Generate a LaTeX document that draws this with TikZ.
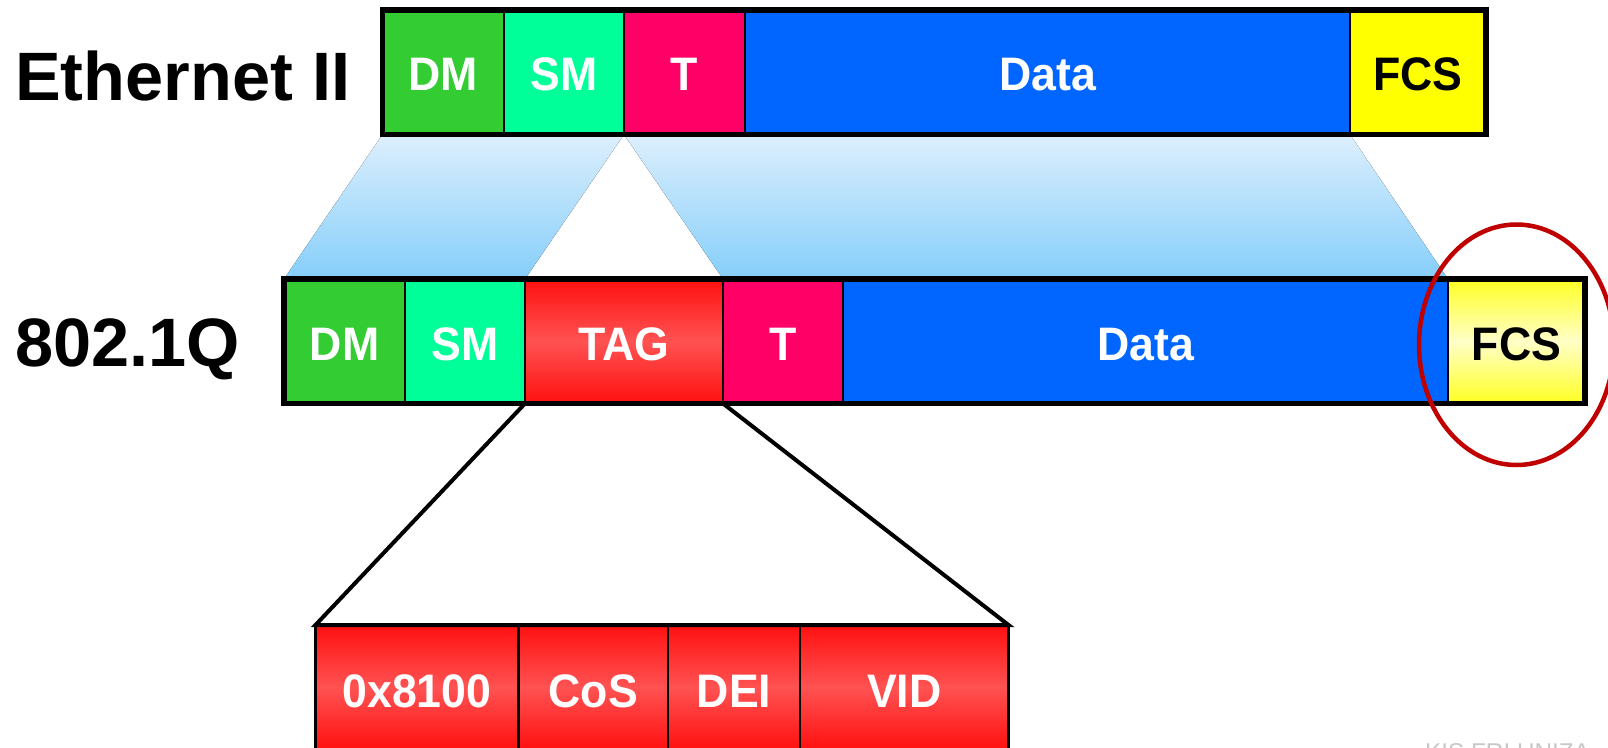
\documentclass[tikz,border=0pt]{standalone}
\usepackage{fontspec}
\setmainfont{Liberation Sans}
\newfontfamily\cellfont[FakeStretch=0.95]{Liberation Sans}
\usetikzlibrary{shapes.geometric}
\definecolor{dmgreen}{HTML}{33CC33}
\definecolor{smgreen}{HTML}{00FF99}
\definecolor{tpink}{HTML}{FF0066}
\definecolor{datablue}{HTML}{0066FF}
\definecolor{fcsyellow}{HTML}{FFFF00}
\definecolor{rededge}{HTML}{FF1010}
\definecolor{redmid}{HTML}{FF5252}
\definecolor{yeledge}{HTML}{FFFF22}
\definecolor{yelmid}{HTML}{FFFFC8}
\definecolor{bluetop}{HTML}{DDEFFD}
\definecolor{bluebot}{HTML}{85CEFA}
\definecolor{ellred}{HTML}{C00000}
\begin{document}
\begin{tikzpicture}[x=1pt,y=-1pt,
  cell/.style={draw=black,line width=2.5pt,inner sep=0pt,outer sep=0pt,minimum height=124.5pt},
  frame/.style={draw=black,line width=5.5pt},
  redgrad/.style={top color=rededge,bottom color=rededge,middle color=redmid},
  yelgrad/.style={top color=yeledge,bottom color=yeledge,middle color=yelmid},
  lbl/.style={font=\cellfont\fontsize{47}{47}\selectfont\bfseries,text=white,anchor=base,inner sep=0pt},
  blbl/.style={lbl,text=black},
  title/.style={font=\fontsize{68.5}{68.5}\selectfont\bfseries,text=black,anchor=base west,inner sep=0pt},
  link/.style={draw=black,line width=4pt,line join=miter},
  funnel/.style={top color=bluetop,bottom color=bluebot}
]
\useasboundingbox (0,0) rectangle (1608,747);

% ---------- Ethernet II bar ----------
\node[cell,fill=dmgreen,minimum width=121.5pt] (e-dm) at (443.25,72.25) {};
\node[cell,fill=smgreen,minimum width=120pt] (e-sm) at (564,72.25) {};
\node[cell,fill=tpink,minimum width=121pt] (e-t) at (684.5,72.25) {};
\node[cell,fill=datablue,minimum width=605pt] (e-data) at (1047.5,72.25) {};
\node[cell,fill=fcsyellow,minimum width=136pt] (e-fcs) at (1418,72.25) {};

% ---------- 802.1Q bar ----------
\node[cell,fill=dmgreen,minimum width=121pt] (q-dm) at (344.5,341.25) {};
\node[cell,fill=smgreen,minimum width=120pt] (q-sm) at (465,341.25) {};
\node[cell,redgrad,minimum width=198pt] (q-tag) at (624,341.25) {};
\node[cell,fill=tpink,minimum width=120pt] (q-t) at (783,341.25) {};
\node[cell,fill=datablue,minimum width=605pt] (q-data) at (1145.5,341.25) {};
\node[cell,yelgrad,minimum width=137pt] (q-fcs) at (1516.5,341.25) {};

% ---------- blue funnels ----------
\fill[funnel] (e-dm.south west) -- (e-t.south west) -- (q-tag.north west) -- (q-dm.north west) -- cycle;
\fill[funnel] (e-t.south west) -- (e-fcs.south west) -- (q-fcs.north west) -- (q-t.north west) -- cycle;

% ---------- tag detail bar ----------
\node[cell,redgrad,minimum width=203pt] (b-tpid) at (417,687.25) {};
\node[cell,redgrad,minimum width=149.5pt] (b-cos) at (593.25,687.25) {};
\node[cell,redgrad,minimum width=132pt] (b-dei) at (734,687.25) {};
\node[cell,redgrad,minimum width=208.5pt] (b-vid) at (904.25,687.25) {};

% frames
\draw[frame] (e-dm.north west) rectangle (e-fcs.south east);
\draw[frame] (q-dm.north west) rectangle (q-fcs.south east);

% tag connectors
\draw[link] (q-tag.south west) -- (b-tpid.north west) -- (b-vid.north east) -- (q-tag.south east);

% ---------- labels ----------
\node[title] (t-eth) at (15,100) {Ethernet II};
\node[title] (t-q) at (15,366) {802.1Q};

\node[lbl] (l-edm) at (443.25,90.7) {DM};
\node[lbl] (l-esm) at (564,90.7) {SM};
\node[lbl] (l-et) at (684.5,90.7) {T};
\node[lbl] (l-edata) at (1047.5,90.7) {Data};
\node[blbl] (l-efcs) at (1418,90.7) {FCS};

\node[lbl] (l-qdm) at (344.5,360) {DM};
\node[lbl] (l-qsm) at (465,360) {SM};
\node[lbl] (l-qtag) at (624,360) {TAG};
\node[lbl] (l-qt) at (783,360) {T};
\node[lbl] (l-qdata) at (1145.5,360) {Data};
\node[blbl] (l-qfcs) at (1516.5,360) {FCS};

\node[lbl] (l-tpid) at (417,707) {0x8100};
\node[lbl] (l-cos) at (593.25,707) {CoS};
\node[lbl] (l-dei) at (734,707) {DEI};
\node[lbl] (l-vid) at (904.25,707) {VID};

% ---------- highlight ellipse ----------
\node[draw=ellred,line width=4.5pt,ellipse,inner sep=0pt,minimum width=195pt,minimum height=240.5pt] (ring) at (1516.5,344.75) {};

% ---------- watermark ----------
\node[anchor=base west,inner sep=0pt,font=\fontsize{24.3}{24.3}\selectfont,text=black!22] (wm) at (1425,760.5) {KIS FRI UNIZA};
\end{tikzpicture}
\end{document}
